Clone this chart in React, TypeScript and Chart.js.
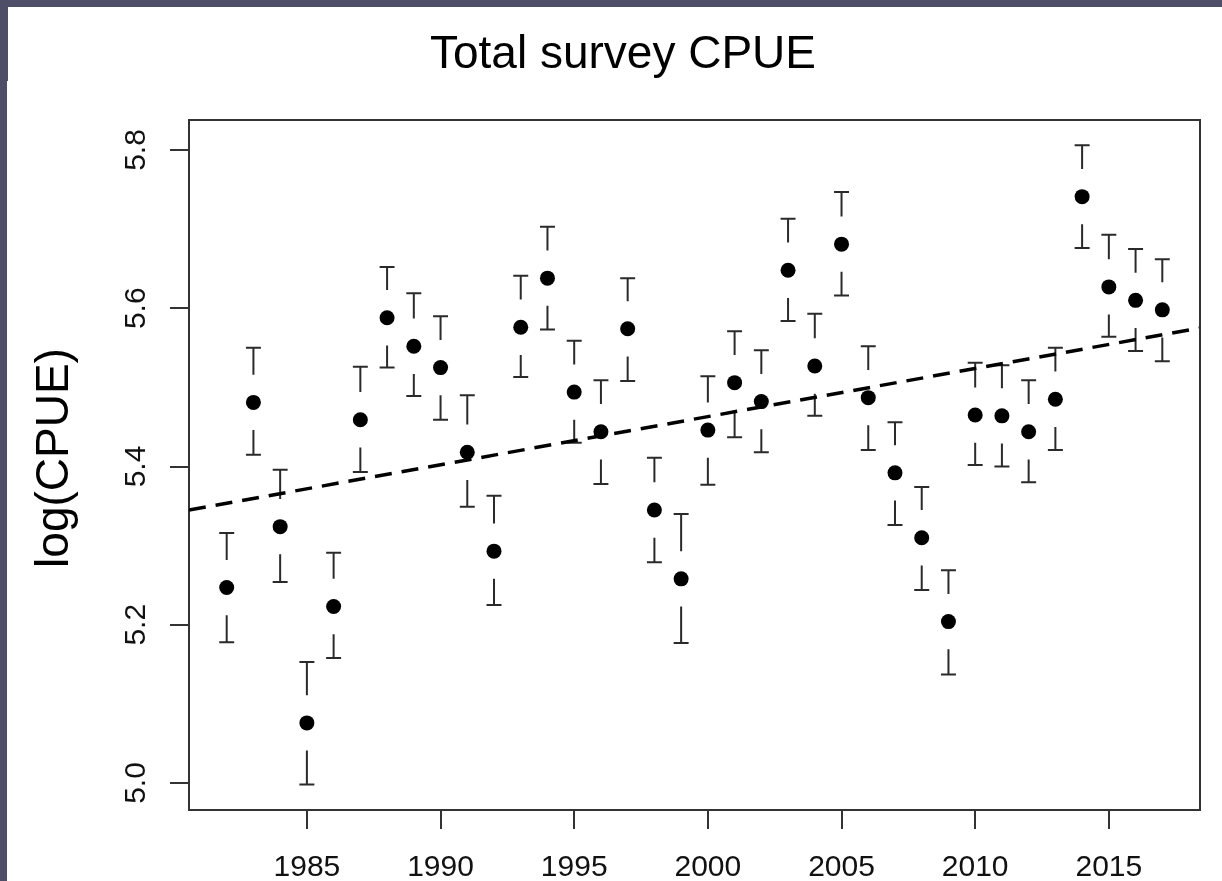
import React, { useEffect, useRef } from "react";
import { Chart, registerables } from "chart.js";

Chart.register(...registerables);

// ---- data ----
const years = [
  1982, 1983, 1984, 1985, 1986, 1987, 1988, 1989, 1990, 1991, 1992, 1993,
  1994, 1995, 1996, 1997, 1998, 1999, 2000, 2001, 2002, 2003, 2004, 2005,
  2006, 2007, 2008, 2009, 2010, 2011, 2012, 2013, 2014, 2015, 2016, 2017,
];
const logCpue = [
  5.247, 5.481, 5.324, 5.076, 5.223, 5.459, 5.588, 5.552, 5.525, 5.418, 5.293, 5.576,
  5.638, 5.494, 5.444, 5.574, 5.345, 5.258, 5.446, 5.506, 5.482, 5.648, 5.527, 5.681,
  5.487, 5.392, 5.31, 5.204, 5.465, 5.464, 5.444, 5.485, 5.741, 5.627, 5.61, 5.598,
];
const upperCI = [
  5.316, 5.55, 5.396, 5.153, 5.291, 5.526, 5.652, 5.619, 5.59, 5.49, 5.363, 5.641,
  5.703, 5.559, 5.509, 5.638, 5.411, 5.34, 5.514, 5.571, 5.547, 5.713, 5.593, 5.747,
  5.552, 5.456, 5.374, 5.269, 5.531, 5.528, 5.509, 5.55, 5.806, 5.693, 5.675, 5.662,
];
const lowerCI = [
  5.178, 5.415, 5.254, 4.998, 5.158, 5.393, 5.525, 5.489, 5.459, 5.349, 5.225, 5.513,
  5.573, 5.43, 5.378, 5.508, 5.279, 5.177, 5.377, 5.437, 5.418, 5.584, 5.464, 5.616,
  5.421, 5.326, 5.244, 5.137, 5.402, 5.4, 5.38, 5.421, 5.676, 5.564, 5.546, 5.533,
];
const trendYears = [1980.59, 2018.41];
const trendValues = [5.345, 5.575];

const xTickValues = [1985, 1990, 1995, 2000, 2005, 2010, 2015];
const xTickLabels = ["1985", "1990", "1995", "2000", "2005", "2010", "2015"];
const yTickValues = [5.0, 5.2, 5.4, 5.6, 5.8];
const yTickLabels = ["5.0", "5.2", "5.4", "5.6", "5.8"];

const titleText = "Total survey CPUE";
const yTitleText = "log(CPUE)";

// ---- style constants ----
const FONT = "'Liberation Sans', Arial, Helvetica, sans-serif";
const GAP = 0.035; // gap between point and error bar (data units)
const CAP = 0.28; // cap half width (years)
const AXIS_COLOR = "#333333";

function buildErrorBars() {
  const pts: { x: number; y: number | null }[] = [];
  years.forEach((yr, i) => {
    const v = logCpue[i];
    const hi = upperCI[i];
    const lo = lowerCI[i];
    pts.push({ x: yr, y: hi }, { x: yr, y: v + GAP }, { x: yr, y: null });
    pts.push({ x: yr, y: v - GAP }, { x: yr, y: lo }, { x: yr, y: null });
    pts.push({ x: yr - CAP, y: hi }, { x: yr + CAP, y: hi }, { x: yr, y: null });
    pts.push({ x: yr - CAP, y: lo }, { x: yr + CAP, y: lo }, { x: yr, y: null });
  });
  return pts;
}

const decorPlugin = {
  id: "decor",
  beforeDraw(chart: any) {
    const ctx = chart.ctx;
    ctx.save();
    ctx.fillStyle = "#4e4e68";
    ctx.fillRect(0, 0, chart.width, chart.height);
    ctx.fillStyle = "#ffffff";
    ctx.fillRect(8, 7, chart.width - 8, 75);
    ctx.fillRect(7, 81, chart.width - 7, chart.height - 81);
    ctx.restore();
  },
  afterDraw(chart: any) {
    const { ctx, chartArea } = chart;
    const yScale = chart.scales.y;
    ctx.save();
    // box: top and right sides
    ctx.strokeStyle = AXIS_COLOR;
    ctx.lineWidth = 2;
    ctx.beginPath();
    ctx.moveTo(chartArea.left - 1, chartArea.top);
    ctx.lineTo(chartArea.right, chartArea.top);
    ctx.lineTo(chartArea.right, chartArea.bottom + 1);
    ctx.stroke();

    // title
    ctx.fillStyle = "#000000";
    ctx.font = `46px ${FONT}`;
    ctx.textAlign = "center";
    ctx.textBaseline = "alphabetic";
    ctx.fillText(titleText, 623, 68);

    // y tick labels (rotated)
    ctx.font = `30px ${FONT}`;
    ctx.fillStyle = "#111111";
    yTickValues.forEach((v, i) => {
      const py = yScale.getPixelForValue(v);
      ctx.save();
      ctx.translate(145, py);
      ctx.rotate(-Math.PI / 2);
      ctx.textAlign = "center";
      ctx.textBaseline = "alphabetic";
      ctx.fillText(yTickLabels[i], 0, 0);
      ctx.restore();
    });

    // y axis title
    ctx.font = `46px ${FONT}`;
    ctx.fillStyle = "#000000";
    ctx.save();
    ctx.translate(68, 458);
    ctx.rotate(-Math.PI / 2);
    ctx.textAlign = "center";
    ctx.textBaseline = "alphabetic";
    ctx.fillText(yTitleText, 0, 0);
    ctx.restore();
    ctx.restore();
  },
};

export default function App() {
  const canvasRef = useRef<HTMLCanvasElement | null>(null);

  useEffect(() => {
    const canvas = canvasRef.current;
    if (!canvas) return;
    const chart = new Chart(canvas, {
      type: "scatter",
      data: {
        datasets: [
          {
            label: "trend",
            data: trendYears.map((x, i) => ({ x, y: trendValues[i] })),
            showLine: true,
            borderColor: "#000000",
            borderWidth: 3.5,
            borderDash: [17, 10],
            pointRadius: 0,
            order: 0,
          } as any,
          {
            label: "points",
            data: years.map((x, i) => ({ x, y: logCpue[i] })),
            showLine: false,
            pointRadius: 7.5,
            pointBackgroundColor: "#000000",
            pointBorderWidth: 0,
            pointBorderColor: "#000000",
            order: 1,
          } as any,
          {
            label: "ci",
            data: buildErrorBars(),
            showLine: true,
            spanGaps: false,
            borderColor: "#2a2a2a",
            borderWidth: 2,
            pointRadius: 0,
            order: 2,
          } as any,
        ],
      },
      options: {
        animation: false,
        responsive: false,
        devicePixelRatio: 1,
        events: [],
        layout: { padding: { left: 0, top: 120, right: 22, bottom: 0 } },
        plugins: {
          legend: { display: false },
          tooltip: { enabled: false },
          title: { display: false },
        },
        scales: {
          x: {
            type: "linear",
            position: "bottom",
            min: 1980.59,
            max: 2018.41,
            afterBuildTicks: (scale: any) => {
              scale.ticks = xTickValues.map((value) => ({ value }));
            },
            afterFit: (scale: any) => {
              scale.height = 71;
            },
            ticks: {
              padding: 21,
              color: "#111111",
              font: { size: 30, family: FONT },
              maxRotation: 0,
              minRotation: 0,
              autoSkip: false,
              callback: (_v: any, i: number) => xTickLabels[i],
            },
            grid: {
              display: true,
              drawOnChartArea: false,
              drawTicks: true,
              tickLength: 19,
              color: AXIS_COLOR,
              lineWidth: 2,
            },
            border: { display: true, color: AXIS_COLOR, width: 2 },
          },
          y: {
            type: "linear",
            position: "left",
            min: 4.9659,
            max: 5.8379,
            afterBuildTicks: (scale: any) => {
              scale.ticks = yTickValues.map((value) => ({ value }));
            },
            afterFit: (scale: any) => {
              scale.width = 189;
            },
            ticks: { display: false },
            grid: {
              display: true,
              drawOnChartArea: false,
              drawTicks: true,
              tickLength: 19,
              color: AXIS_COLOR,
              lineWidth: 2,
            },
            border: { display: true, color: AXIS_COLOR, width: 2 },
          },
        },
      } as any,
      plugins: [decorPlugin],
    });
    return () => chart.destroy();
  }, []);

  return (
    <div style={{ position: "fixed", left: 0, top: 0, width: 1222, height: 881 }}>
      <canvas ref={canvasRef} width={1222} height={881} style={{ display: "block" }} />
    </div>
  );
}
